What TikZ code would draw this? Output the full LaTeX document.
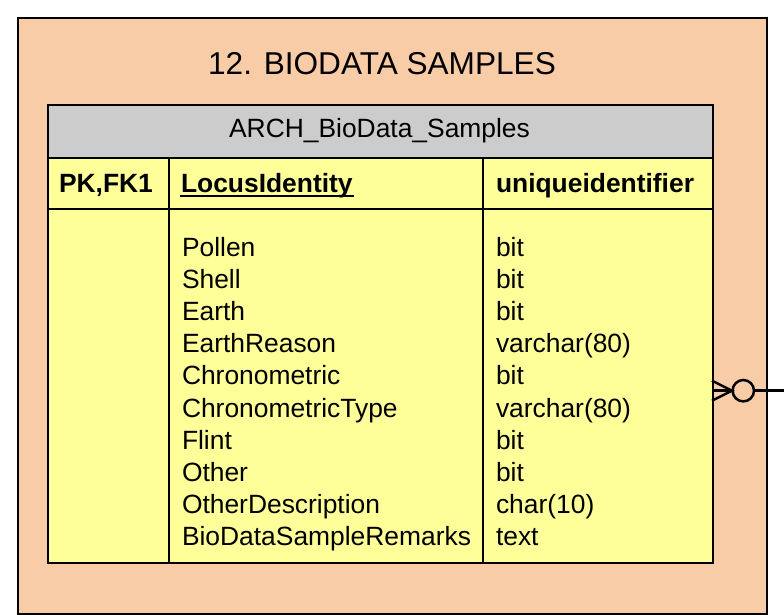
\documentclass[tikz,border=0pt]{standalone}
\usepackage{fontspec}
\setmainfont{Liberation Sans}
\definecolor{peach}{RGB}{249,204,168}
\definecolor{hdrgray}{RGB}{204,204,204}
\definecolor{rowyellow}{RGB}{255,255,153}
\begin{document}
\begin{tikzpicture}[x=1pt,y=-1pt,line width=2pt,
  box/.style={draw,anchor=north west,inner sep=0pt,line width=2pt},
  txt/.style={inner sep=0pt,anchor=base west,font=\fontsize{26.4}{32}\selectfont},
  btxt/.style={txt,font=\fontsize{26.4}{32}\selectfont\bfseries},
  crow/.style={line width=2.5pt}]
\useasboundingbox (0,0) rectangle (784,615);
% outer frame
\node[box,fill=peach,minimum width=748.4pt,minimum height=596pt] (outer) at (17.3,17.3) {};
\node[inner sep=0pt,anchor=base,font=\fontsize{31.6}{36}\selectfont] (title) at (382,75) {12. BIODATA SAMPLES};
% table
\node[box,fill=hdrgray,minimum width=665pt,minimum height=53pt] (hdr) at (47,104) {};
\node[box,fill=rowyellow,minimum width=665pt,minimum height=51pt] (pkrow) at (47,157) {};
\node[box,fill=rowyellow,minimum width=665pt,minimum height=354pt] (body) at (47,208) {};
\draw (169,157) -- (169,562);
\draw (483,157) -- (483,562);
\node[inner sep=0pt,anchor=base,font=\fontsize{26.4}{32}\selectfont] (hdrtxt) at (379.5,138) {ARCH\_BioData\_Samples};
\node[btxt] (pk) at (58,192) {PK,FK1};
\node[btxt] (locus) at (180,192) {LocusIdentity};
\draw[line width=2pt] ([yshift=-3.5pt]locus.base west) -- ([yshift=-3.5pt]locus.base east);
\node[btxt] (uid) at (495,192) {uniqueidentifier};
\foreach \n/\t [count=\i from 0] in {Pollen/bit,Shell/bit,Earth/bit,EarthReason/varchar(80),Chronometric/bit,ChronometricType/varchar(80),Flint/bit,Other/bit,OtherDescription/char(10),BioDataSampleRemarks/text}{
  \node[txt] (f\i) at (181,256+32.2*\i) {\n};
  \node[txt] (t\i) at (495,256+32.2*\i) {\t};
}
% relationship end: zero-or-many
\coordinate (tip) at (712,390.7);
\coordinate (tipa) at (712,380.7);
\coordinate (tipb) at (712,400.7);
\coordinate (join) at (732,390.7);
\node[circle,draw,line width=2.5pt,minimum size=21.4pt,inner sep=0pt] (opt) at (743.3,390.7) {};
\coordinate (far) at (784,390.7);
\draw[crow] (tipa) -- (join) -- (tipb);
\draw[crow] (tip) -- (opt.west);
\draw[crow] (opt.east) -- (far);
\end{tikzpicture}
\end{document}
